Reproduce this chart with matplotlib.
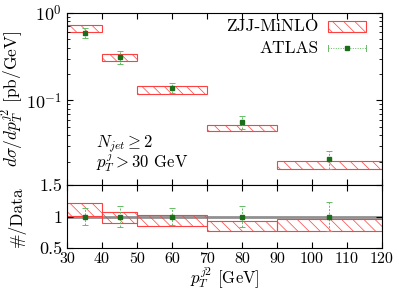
import numpy as np
import matplotlib
matplotlib.use('Agg')
import matplotlib.pyplot as plt
from matplotlib.patches import Rectangle
from matplotlib.ticker import FixedLocator, FixedFormatter, LogLocator, NullFormatter

plt.rcParams['font.family'] = 'cmr10'
plt.rcParams['mathtext.fontset'] = 'cm'
plt.rcParams['axes.formatter.use_mathtext'] = True
plt.rcParams['font.size'] = 12.5
plt.rcParams['hatch.linewidth'] = 0.5

# bins in pT of second jet
bin_lo = [30, 40, 50, 70, 90]
bin_hi = [40, 50, 70, 90, 120]
# ATLAS data (bin centres as drawn)
atlas_x = [35, 45, 60, 80, 105]
atlas_y = [0.59, 0.313, 0.14, 0.0567, 0.0213]
atlas_rel = [0.13, 0.16, 0.14, 0.17, 0.23]
# ZJJ-MiNLO uncertainty band
minlo_lo = [0.596, 0.28, 0.119, 0.0441, 0.0165]
minlo_hi = [0.72, 0.336, 0.1445, 0.0527, 0.0204]

red = '#ff4040'
dgreen = '#1a6e1a'
lgreen = '#66bb66'
hatch = '\\\\\\'

lo = np.array(bin_lo, float)
w = np.array(bin_hi, float) - lo
dat = np.array(atlas_y)
err = dat * np.array(atlas_rel)
mlo = np.array(minlo_lo)
mhi = np.array(minlo_hi)

fig = plt.figure(figsize=(3.99, 2.92), dpi=100)
ax = fig.add_axes([0.168, 0.3664, 0.789, 0.590])
rax = fig.add_axes([0.168, 0.150, 0.789, 0.2164])

# main panel
ax.bar(lo, mhi - mlo, bottom=mlo, width=w, align='edge', fill=False,
       hatch=hatch, edgecolor=red, linewidth=0.8)
eb = ax.errorbar(atlas_x, dat, yerr=err, fmt='s', ms=2.2, color=dgreen,
                 ecolor=lgreen, elinewidth=0.7, capsize=2, capthick=0.7)
eb[2][0].set_linestyle((0, (2, 1.5)))
ax.set_yscale('log')
ax.set_xlim(30, 120)
ax.set_ylim(0.0108, 1)
ax.yaxis.set_major_locator(FixedLocator([0.1, 1]))
ax.yaxis.set_major_formatter(FixedFormatter([r'$10^{-1}$', r'$10^{0}$']))
ax.yaxis.set_minor_locator(LogLocator(base=10, subs=np.arange(2, 10), numticks=10))
ax.yaxis.set_minor_formatter(NullFormatter())
ax.set_xticks(np.arange(30, 121, 10))
ax.tick_params(axis='x', labelbottom=False)
ax.tick_params(which='both', direction='in', top=True, right=True)
ax.tick_params(which='major', length=4, labelsize=13)
ax.tick_params(which='minor', length=2)
ax.set_ylabel(r'$d\sigma/dp_T^{j2}$ [pb/GeV]')
ax.yaxis.set_label_coords(-0.13, 0.5)

ax.text(0.092, 0.218, r'$N_{jet} \geq 2$', transform=ax.transAxes, va='baseline',
        fontsize=12)
ax.text(0.092, 0.100, r'$p_T^{j} > 30$ GeV', transform=ax.transAxes, va='baseline',
        fontsize=12)

# legend drawn by hand
ax.text(0.80, 0.923, 'ZJJ-MiNLO', transform=ax.transAxes, ha='right', va='center')
ax.add_patch(Rectangle((0.829, 0.887), 0.12, 0.064, transform=ax.transAxes,
                       fill=False, hatch=hatch, edgecolor=red, linewidth=0.8))
ax.text(0.80, 0.795, 'ATLAS', transform=ax.transAxes, ha='right', va='center')
ax.plot([0.829, 0.949], [0.795, 0.795], transform=ax.transAxes, color=lgreen,
        lw=0.7, ls=(0, (1, 1.5)))
ax.plot([0.829, 0.829], [0.78, 0.81], transform=ax.transAxes, color=lgreen, lw=0.7)
ax.plot([0.949, 0.949], [0.78, 0.81], transform=ax.transAxes, color=lgreen, lw=0.7)
ax.plot([0.889], [0.795], 's', ms=2.2, color=dgreen, transform=ax.transAxes)

# ratio panel
rax.axhline(1.0, color='#909090', lw=2, zorder=1)
rax.bar(lo, (mhi - mlo) / dat, bottom=mlo / dat, width=w, align='edge', fill=False,
        hatch=hatch, edgecolor=red, linewidth=0.8, zorder=2)
eb2 = rax.errorbar(atlas_x, np.ones(5), yerr=np.array(atlas_rel), fmt='s', ms=2.2,
                   color=dgreen, ecolor=lgreen, elinewidth=0.7, capsize=2,
                   capthick=0.7, zorder=3)
eb2[2][0].set_linestyle((0, (2, 1.5)))
rax.set_xlim(30, 120)
rax.set_ylim(0.5, 1.5)
rax.set_yticks([0.5, 1, 1.5])
rax.set_yticklabels(['0.5', '1', '1.5'])
rax.set_xticks(np.arange(30, 121, 10))
rax.set_xticklabels([str(v) for v in range(30, 121, 10)])
rax.tick_params(which='both', direction='in', top=True, right=True, length=4)
rax.tick_params(axis='y', labelsize=13)
rax.tick_params(axis='x', labelsize=11.5, pad=3)
rax.set_ylabel('#/Data')
rax.yaxis.set_label_coords(-0.13, 0.5)
rax.set_xlabel(r'$p_T^{j2}$ [GeV]', va='top', fontsize=12)
rax.xaxis.set_label_coords(0.5, -0.27)

fig.savefig('out.png', dpi=100)
